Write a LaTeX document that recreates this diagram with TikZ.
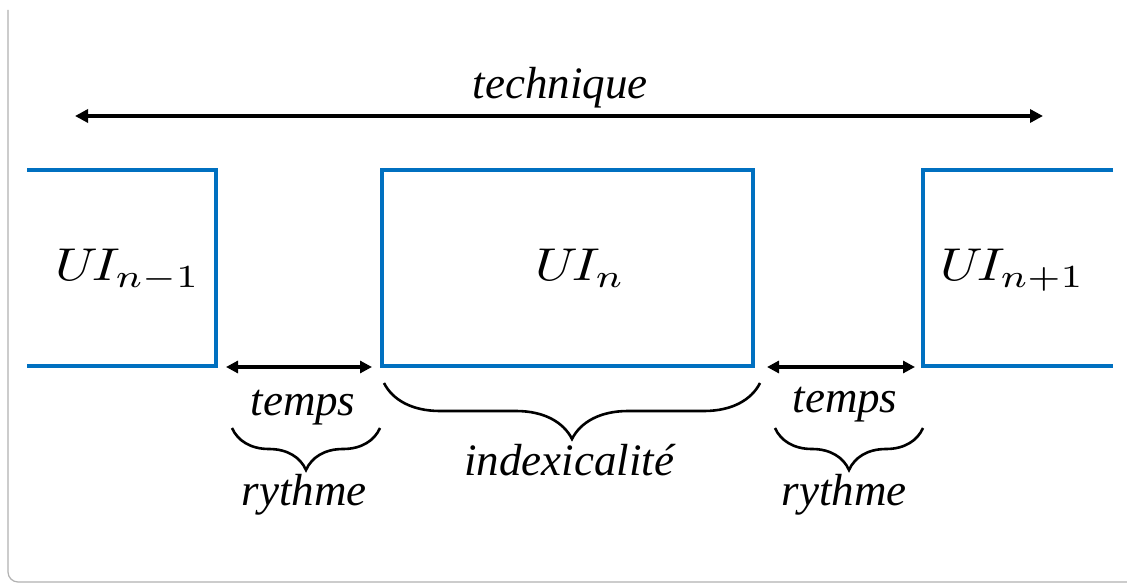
\documentclass[tikz,border=0pt]{standalone}
\usepackage{fontspec}
\setmainfont{Liberation Serif}
\usetikzlibrary{arrows.meta,decorations.pathreplacing}
\definecolor{uiblue}{HTML}{0070C0}
\begin{document}
\begin{tikzpicture}[x=1pt,y=-1pt,
  box/.style={draw=uiblue,line width=3.5pt},
  dbl/.style={{Triangle[length=13pt,width=13pt]}-{Triangle[length=13pt,width=13pt]},line width=3.8pt},
  dbls/.style={{Triangle[length=12pt,width=12pt]}-{Triangle[length=12pt,width=12pt]},line width=3.2pt},
  lbl/.style={font=\fontsize{45}{50}\selectfont\itshape,anchor=base,inner sep=0pt},
  ui/.style={anchor=base west,inner sep=0pt},
  brc/.style={decorate,decoration={brace,mirror,amplitude=#1},line width=2.6pt}]
\useasboundingbox (0,0) rectangle (1127,585);
\fill[white] (0,0) rectangle (1127,585);
\draw[black!30,line width=1.2pt,rounded corners=10pt] (8,10) -- (8,582) -- (1127,582);

% top arrow
\node[lbl] (tech) at (560,99) {technique};
\coordinate (tl) at (75,116);
\coordinate (tr) at (1043,116);
\draw[dbl] (tl) -- (tr);

% left partial box
\coordinate (la) at (27,170);
\coordinate (lb) at (216,170);
\coordinate (lc) at (216,366);
\coordinate (ld) at (27,366);
\draw[box] (la) -- (lb) -- (lc) -- (ld);
% middle box
\node[box,minimum width=371pt,minimum height=196pt,inner sep=0pt] (mid) at (567.5,268) {};
% right partial box
\coordinate (ra) at (1113,170);
\coordinate (rb) at (923,170);
\coordinate (rc) at (923,366);
\coordinate (rd) at (1113,366);
\draw[box] (ra) -- (rb) -- (rc) -- (rd);

% unit labels
\node[ui] (uil) at (55,281) {\scalebox{5.4}[4.6]{$U\mkern-2mu I_{n-1}$}};
\node[ui] (uim) at (535,281) {\scalebox{5.4}[4.6]{$U\mkern-2mu I_{n}$}};
\node[ui] (uir) at (940,281) {\scalebox{5.4}[4.6]{$U\mkern-2mu I_{n+1}$}};

% temps arrows
\coordinate (t1a) at (226,367);
\coordinate (t1b) at (372,367);
\coordinate (t2a) at (767,367);
\coordinate (t2b) at (915,367);
\draw[dbls] (t1a) -- (t1b);
\draw[dbls] (t2a) -- (t2b);
\node[lbl] (temps1) at (303,415) {temps};
\node[lbl] (temps2) at (845,412) {temps};

% braces
\coordinate (b1a) at (232,428);
\coordinate (b1b) at (380,428);
\coordinate (bma) at (384,383);
\coordinate (bmb) at (760,383);
\coordinate (b2a) at (775,428);
\coordinate (b2b) at (923,428);
\draw[brc=42pt] (b1a) -- (b1b);
\draw[brc=56pt] (bma) -- (bmb);
\draw[brc=42pt] (b2a) -- (b2b);

\node[lbl] (ryth1) at (304,505) {rythme};
\node[lbl] (index) at (569,475) {indexicalité};
\node[lbl] (ryth2) at (844,505) {rythme};
\end{tikzpicture}
\end{document}
